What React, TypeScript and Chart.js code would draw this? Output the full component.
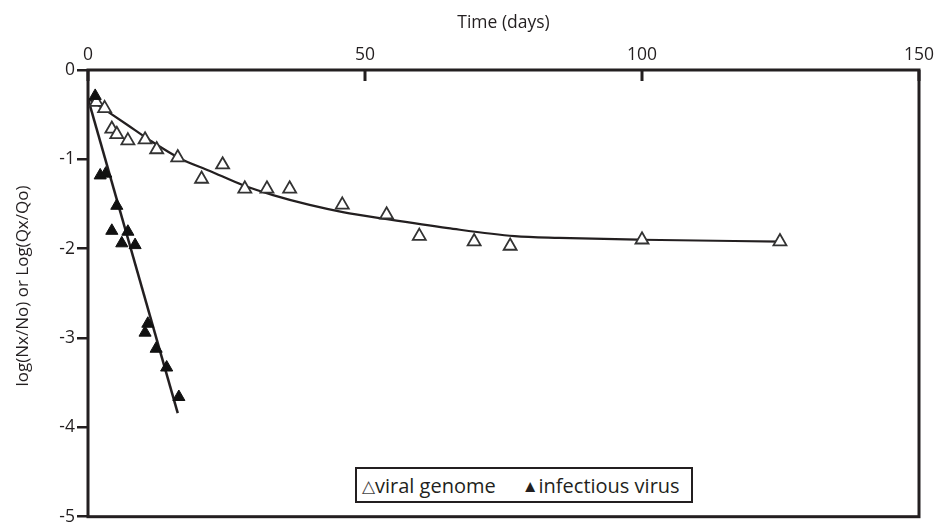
import React, { useEffect, useRef } from "react";
import { Chart, registerables } from "chart.js";

Chart.register(...registerables);

// Open triangles: viral genome (days, log ratio)
const genomeDays = [1.5, 3, 4.3, 5.2, 7.2, 10.3, 12.4, 16.2, 20.5, 24.3, 28.3, 32.3, 36.4, 45.9, 53.9, 59.8, 69.7, 76.2, 100, 124.9];
const genomeLog = [-0.36, -0.43, -0.66, -0.72, -0.79, -0.78, -0.89, -0.98, -1.22, -1.06, -1.33, -1.33, -1.33, -1.51, -1.62, -1.86, -1.92, -1.97, -1.9, -1.92];

// Filled triangles: infectious virus
const virusDays = [1.3, 2.2, 3.2, 5.2, 4.3, 7.2, 6.1, 8.5, 10.8, 10.3, 12.3, 14.2, 16.4];
const virusLog = [-0.29, -1.18, -1.16, -1.52, -1.8, -1.81, -1.94, -1.96, -2.84, -2.94, -3.12, -3.33, -3.66];

// Fitted curves
const genomeFitDays = [0, 2.7, 7, 11, 16.6, 22, 28, 33.4, 40, 46, 54, 65, 77, 85, 100, 125];
const genomeFitLog = [-0.32, -0.43, -0.61, -0.78, -0.99, -1.13, -1.29, -1.4, -1.51, -1.59, -1.67, -1.77, -1.86, -1.88, -1.9, -1.92];
const virusFitDays = [0, 16.2];
const virusFitLog = [-0.32, -3.84];

const xTicks = [0, 50, 100, 150];
const yTicks = [0, -1, -2, -3, -4, -5];

const xTitle = "Time (days)";
const yTitle = "log(Nx/No) or Log(Qx/Qo)";
const legendGenome = "viral genome";
const legendVirus = "infectious virus";

const INK = "#231f20";
const FONT = "'Open Sans', 'Noto Sans', sans-serif";

const zip = (xs: number[], ys: number[]) => xs.map((x, i) => ({ x, y: ys[i] }));

const framePlugin = {
  id: "frame",
  beforeDatasetsDraw(chart: any) {
    const { ctx, chartArea } = chart;
    const { left, right, top, bottom } = chartArea;
    ctx.save();
    ctx.strokeStyle = INK;
    ctx.lineWidth = 3;
    ctx.strokeRect(left, top, right - left, bottom - top);
    const xs = chart.scales.x;
    xTicks.forEach((v) => {
      const px = xs.getPixelForValue(v);
      ctx.beginPath();
      ctx.moveTo(px, top);
      ctx.lineTo(px, top + 11);
      ctx.stroke();
    });
    ctx.restore();
  },
  afterDraw(chart: any) {
    const { ctx } = chart;
    ctx.save();
    ctx.translate(23, 286);
    ctx.rotate(-Math.PI / 2);
    ctx.fillStyle = INK;
    ctx.font = `17px ${FONT}`;
    ctx.textAlign = "center";
    ctx.textBaseline = "middle";
    ctx.fillText(yTitle, 0, 0);
    ctx.restore();
  },
};

export default function App() {
  const ref = useRef<HTMLCanvasElement | null>(null);

  useEffect(() => {
    if (!ref.current) return;
    const chart = new Chart(ref.current, {
      type: "scatter",
      data: {
        datasets: [
          {
            label: legendGenome,
            data: zip(genomeDays, genomeLog),
            pointStyle: "triangle",
            pointRadius: 7.5,
            pointBorderWidth: 1.8,
            pointBackgroundColor: "#ffffff",
            pointBorderColor: "#333333",
            showLine: false,
            order: 1,
          },
          {
            label: legendVirus,
            data: zip(virusDays, virusLog),
            pointStyle: "triangle",
            pointRadius: 7,
            pointBorderWidth: 1,
            pointBackgroundColor: "#111111",
            pointBorderColor: "#111111",
            showLine: false,
            order: 0,
          },
          {
            label: "genome fit",
            data: zip(genomeFitDays, genomeFitLog),
            showLine: true,
            borderColor: INK,
            borderWidth: 2.2,
            pointRadius: 0,
            cubicInterpolationMode: "monotone",
            order: 3,
          },
          {
            label: "virus fit",
            data: zip(virusFitDays, virusFitLog),
            showLine: true,
            borderColor: INK,
            borderWidth: 2.5,
            pointRadius: 0,
            order: 2,
          },
        ],
      },
      options: {
        animation: false,
        responsive: false,
        layout: { padding: { left: 0, right: 16, top: 0, bottom: 5 } },
        plugins: { legend: { display: false }, tooltip: { enabled: false } },
        scales: {
          x: {
            type: "linear",
            position: "top",
            min: 0,
            max: 150,
            afterBuildTicks: (scale: any) => {
              scale.ticks = xTicks.map((v) => ({ value: v }));
            },
            afterFit: (scale: any) => {
              scale.height = 70;
              scale.paddingLeft = 0;
              scale.paddingRight = 0;
            },
            grid: { display: false },
            border: { display: false },
            ticks: {
              color: INK,
              font: { family: FONT, size: 17.5 },
              padding: -4,
              maxRotation: 0,
            },
            title: {
              display: true,
              text: xTitle,
              color: INK,
              font: { family: FONT, size: 17.5 },
              padding: { top: 13, bottom: 0 },
            },
          },
          y: {
            type: "linear",
            min: -5,
            max: 0,
            afterBuildTicks: (scale: any) => {
              scale.ticks = yTicks.map((v) => ({ value: v }));
            },
            afterFit: (scale: any) => {
              scale.width = 88;
              scale.paddingTop = 0;
              scale.paddingBottom = 0;
            },
            grid: {
              display: true,
              drawOnChartArea: false,
              drawTicks: true,
              tickLength: 11,
              color: INK,
              lineWidth: 2.5,
            },
            border: { display: false },
            ticks: {
              color: INK,
              font: { family: FONT, size: 17.5 },
              padding: 2,
            },
            title: { display: false },
          },
        },
      },
      plugins: [framePlugin],
    } as any);
    return () => chart.destroy();
  }, []);

  return (
    <div style={{ position: "absolute", left: 0, top: 0, width: 935, height: 526, background: "#fff" }}>
      <canvas ref={ref} width={935} height={526} style={{ display: "block" }} />
      <div
        style={{
          position: "absolute",
          left: 355,
          top: 467,
          width: 338,
          height: 36,
          boxSizing: "border-box",
          border: `2px solid ${INK}`,
          background: "#fff",
          fontFamily: FONT,
          fontSize: 20,
          color: INK,
          display: "flex",
          alignItems: "center",
          paddingLeft: 5,
          whiteSpace: "nowrap",
        }}
      >
        <span style={{ fontSize: 17, color: "#444" }}>△</span>
        <span>{legendGenome}</span>
        <span style={{ fontSize: 17, marginLeft: 26 }}>▲</span>
        <span>{legendVirus}</span>
      </div>
    </div>
  );
}
